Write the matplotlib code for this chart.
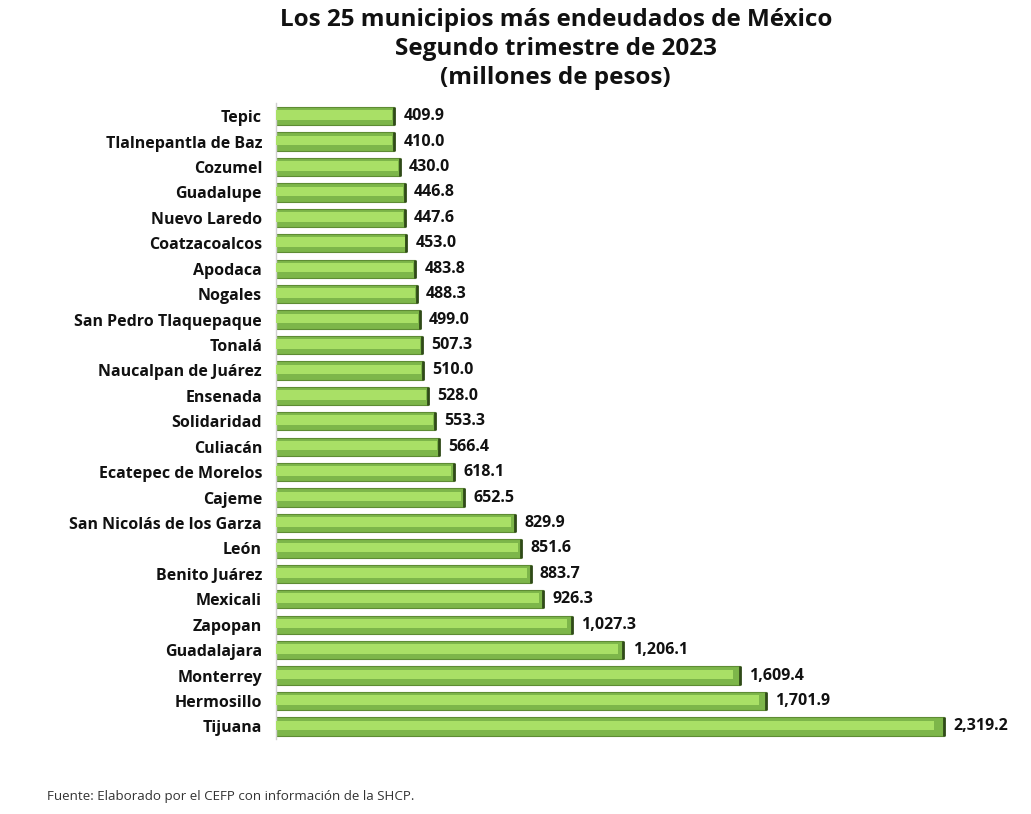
import numpy as np
import matplotlib
matplotlib.use('Agg')
import matplotlib.pyplot as plt

#-------------------------------------------------------------#
# Data (top to bottom)
#-------------------------------------------------------------#
municipios = ['Tepic', 'Tlalnepantla de Baz', 'Cozumel', 'Guadalupe', 'Nuevo Laredo',
              'Coatzacoalcos', 'Apodaca', 'Nogales', 'San Pedro Tlaquepaque', 'Tonalá',
              'Naucalpan de Juárez', 'Ensenada', 'Solidaridad', 'Culiacán',
              'Ecatepec de Morelos', 'Cajeme', 'San Nicolás de los Garza', 'León',
              'Benito Juárez', 'Mexicali', 'Zapopan', 'Guadalajara', 'Monterrey',
              'Hermosillo', 'Tijuana']
deuda = [409.9, 410.0, 430.0, 446.8, 447.6, 453.0, 483.8, 488.3, 499.0, 507.3,
         510.0, 528.0, 553.3, 566.4, 618.1, 652.5, 829.9, 851.6, 883.7, 926.3,
         1027.3, 1206.1, 1609.4, 1701.9, 2319.2]

plt.rcParams['font.family'] = ['Open Sans', 'DejaVu Sans']

fig = plt.figure(figsize=(10.31, 8.14), dpi=100)
ax = fig.add_axes([0.2677, 0.092, 0.7023, 0.781])

y = np.arange(len(municipios))

# bevel-like bars: darker body, light center stripe, dark end cap
ax.barh(y, deuda, height=0.72, color='#7db64a', edgecolor='#5e8c34', linewidth=0.8, zorder=2)
ax.barh(y - 0.04, np.array(deuda) * 0.985, height=0.38, color='#a9e066', linewidth=0, zorder=3)
for yi, v in zip(y, deuda):
    ax.plot([v, v], [yi - 0.36, yi + 0.36], color='#2f4a18', lw=2.0, zorder=5,
            solid_capstyle='butt')
    ax.text(v + 32, yi, f'{v:,.1f}', va='center', ha='left', fontsize=11.5,
            fontweight='bold', color='#111111')

ax.set_yticks(y)
ax.set_yticklabels(municipios, fontsize=11.5, fontweight='bold', color='#111111')
ax.tick_params(axis='y', length=0, pad=10)
ax.set_xticks([])
ax.set_xlim(0, 2514)
ax.set_ylim(len(municipios) - 0.5, -0.5)

for s in ['top', 'right', 'bottom']:
    ax.spines[s].set_visible(False)
ax.spines['left'].set_color('#d0d0d0')
ax.spines['left'].set_linewidth(1.0)

fig.text(0.539, 0.990, 'Los 25 municipios más endeudados de México\n'
         'Segundo trimestre de 2023\n(millones de pesos)',
         ha='center', va='top', fontsize=17.5, fontweight='bold',
         color='#111111', linespacing=1.28)

fig.text(0.046, 0.021, 'Fuente: Elaborado por el CEFP con información de la SHCP.',
         ha='left', va='center', fontsize=9.6, color='#333333')

fig.savefig('out.png', dpi=100, facecolor='white')
